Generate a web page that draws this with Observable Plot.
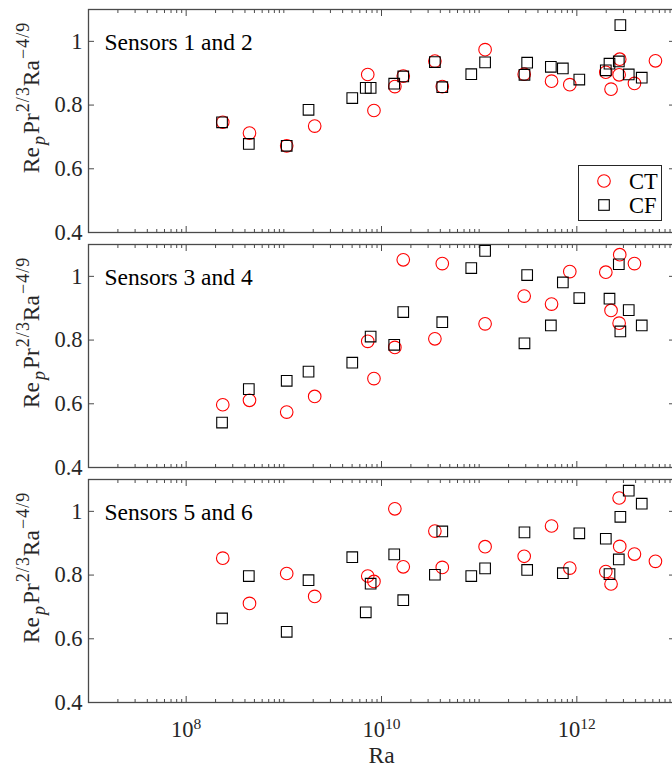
<!DOCTYPE html>
<html><head><meta charset="utf-8">
<script src="https://cdn.jsdelivr.net/npm/d3@7"></script>
<script src="https://cdn.jsdelivr.net/npm/@observablehq/plot@0.6"></script>
<style>
body{margin:0;background:#fff;}
#wrap{position:relative;width:672px;height:767px;overflow:hidden;background:#fff;}
#legend{position:absolute;left:578px;top:165px;}
#wrap svg text{font-family:"Liberation Serif","Times New Roman",Times,serif;}
</style></head><body><div id="wrap"></div>
<script>
// ---- data ----
const panels = ["Sensors 1 and 2", "Sensors 3 and 4", "Sensors 5 and 6"];
const seriesNames = ["CT", "CF"];
const raCT = [2.37e8, 4.45e8, 1.07e9, 2.07e9, 7.23e9, 8.37e9, 1.37e10, 1.67e10, 3.52e10, 4.19e10,
              1.15e11, 2.89e11, 5.51e11, 8.47e11, 1.98e12, 2.24e12, 2.71e12, 2.75e12, 3.89e12, 6.38e12];
const raCF = [2.33e8, 4.38e8, 1.07e9, 1.79e9, 5.02e9, 6.90e9, 7.74e9, 1.35e10, 1.67e10, 3.52e10,
              4.19e10, 8.30e10, 1.15e11, 2.91e11, 3.10e11, 5.42e11, 7.19e11, 1.06e12, 1.98e12, 2.16e12,
              2.69e12, 2.79e12, 3.40e12, 4.62e12];
const ct12 = [0.746, 0.712, 0.672, 0.734, 0.896, 0.783, 0.858, 0.891, 0.938, 0.858,
              0.974, 0.897, 0.875, 0.864, 0.903, 0.850, 0.895, 0.944, 0.868, 0.939];
const cf12 = [0.746, 0.678, 0.672, 0.785, 0.822, 0.854, 0.854, 0.867, 0.890, 0.935,
              0.856, 0.897, 0.934, 0.895, 0.933, 0.920, 0.915, 0.880, 0.909, 0.930,
              0.937, 1.051, 0.896, 0.886];
const ct34 = [0.597, 0.611, 0.574, 0.623, 0.796, 0.679, 0.777, 1.052, 0.804, 1.040,
              0.851, 0.938, 0.913, 1.015, 1.013, 0.893, 0.853, 1.068, 1.040, null];
const cf34 = [0.541, 0.646, 0.672, 0.701, 0.729, null, 0.811, 0.785, 0.888, null,
              0.856, 1.026, 1.080, 0.790, 1.004, 0.846, 0.981, 0.932, null, 0.930,
              1.038, 0.827, 0.894, 0.846];
const ct56 = [0.853, 0.711, 0.805, 0.733, 0.797, 0.780, 1.008, 0.826, 0.938, 0.824,
              0.889, 0.859, 0.954, 0.822, 0.811, 0.772, 1.042, 0.890, 0.866, 0.843];
const cf56 = [0.664, 0.797, 0.622, 0.784, 0.856, 0.683, 0.773, 0.865, 0.721, 0.801,
              0.937, 0.797, 0.821, 0.934, 0.816, null, 0.806, 0.931, 0.914, 0.803,
              0.849, 0.983, 1.065, 1.024];
const yTicks = [0.4, 0.6, 0.8, 1];
const xMajor = [1e8, 1e10, 1e12];
const yLabel = "Re_p Pr^{2/3} Ra^{-4/9}";
const xLabel = "Ra";

// ---- build tables ----
const ctSets = [ct12, ct34, ct56], cfSets = [cf12, cf34, cf56];
const rows = [];
panels.forEach((p, i) => {
  ctSets[i].forEach((v, j) => { if (v != null) rows.push({panel: p, ra: raCT[j], v, s: "CT"}); });
  cfSets[i].forEach((v, j) => { if (v != null) rows.push({panel: p, ra: raCF[j], v, s: "CF"}); });
});
const xMinor = [];
for (let n = 7; n <= 12; n++) for (let k = 1; k <= 9; k++) {
  const t = k * Math.pow(10, n);
  if (!xMajor.some(m => Math.abs(m - t) / m < 1e-9)) xMinor.push(t);
}
xMinor.push(1e13);

const axisColor = "#262626";
const frameColor = "#4a4a4a";
const font = '"Liberation Serif","Times New Roman",Times,serif';
const tickFs = 22.5, labelFs = 23.5;

const chart = Plot.plot({
  width: 672, height: 767,
  marginTop: 9, marginBottom: 64, marginLeft: 88, marginRight: -2,
  style: {fontFamily: font, background: "white", color: axisColor, overflow: "visible"},
  x: {type: "log", domain: [1e7, 1e13]},
  y: {domain: [0.4, 1.1]},
  fy: {domain: panels, axis: null, paddingInner: 0.05, paddingOuter: 0},
  marks: [
    Plot.frame({stroke: frameColor, strokeWidth: 1.3}),
    // inward ticks on all four sides
    Plot.axisX(xMajor, {anchor: "bottom", facetAnchor: null, tickSize: -6, tickFormat: () => "", stroke: frameColor, label: null}),
    Plot.axisX(xMajor, {anchor: "top", facetAnchor: null, tickSize: -6, tickFormat: () => "", stroke: frameColor, label: null}),
    Plot.axisX(xMinor, {anchor: "bottom", facetAnchor: null, tickSize: -3, tickFormat: () => "", stroke: frameColor, label: null}),
    Plot.axisX(xMinor, {anchor: "top", facetAnchor: null, tickSize: -3, tickFormat: () => "", stroke: frameColor, label: null}),
    Plot.axisY(yTicks, {anchor: "left", facetAnchor: null, tickSize: -6, tickFormat: () => "", stroke: frameColor, label: null}),
    Plot.axisY(yTicks, {anchor: "right", facetAnchor: null, tickSize: -6, tickFormat: () => "", stroke: frameColor, label: null}),
    // tick labels
    Plot.axisY(yTicks, {anchor: "left", facetAnchor: null, tickSize: 0, tickPadding: 6, tickFormat: d => d3.format("~g")(d), fill: axisColor, fontSize: tickFs, label: null}),
    Plot.axisX(xMajor, {anchor: "bottom", tickSize: 0, tickPadding: 19, tickFormat: d => "10^" + Math.round(Math.log10(d)), fill: axisColor, fontSize: tickFs, label: xLabel, labelAnchor: "center", labelOffset: 60, labelArrow: "none"}),
    // panel titles
    Plot.text(panels, {fy: d => d, text: d => d, y: () => 1, frameAnchor: "left", dx: 16, dy: 1.5, textAnchor: "start", fontSize: labelFs, fontFamily: font, fill: "black"}),
    // y label per panel
    Plot.text(panels, {fy: d => d, text: () => yLabel, frameAnchor: "top-left", dx: -66, dy: 88, rotate: -90, textAnchor: "middle", fontSize: labelFs, fontFamily: font, fill: axisColor}),
    // data
    Plot.dot(rows.filter(d => d.s === "CT"), {x: "ra", y: "v", fy: "panel", r: 6.3, symbol: "circle", stroke: "#ff0000", strokeWidth: 1.1, fill: "none"}),
    Plot.dot(rows.filter(d => d.s === "CF"), {x: "ra", y: "v", fy: "panel", r: 6, symbol: "square", stroke: "#000", strokeWidth: 1.1, fill: "none"})
  ]
});

const svg = d3.select(chart.tagName.toLowerCase() === "svg" ? chart : chart.querySelector("svg"));
// superscripts / subscripts in labels
svg.selectAll("text").each(function () {
  const t = d3.select(this);
  const s = this.textContent;
  let m = /^10\^(\d+)$/.exec(s);
  if (m) {
    t.text(null);
    t.append("tspan").text("10");
    t.append("tspan").attr("dy", "-8").attr("font-size", 15.5).text(m[1]);
    return;
  }
  if (s === yLabel) {
    t.text(null);
    const sup = 18;
    t.append("tspan").text("Re");
    t.append("tspan").attr("dx", 2).attr("dy", 6).attr("font-size", sup).attr("font-style", "italic").text("p");
    t.append("tspan").attr("dx", 2).attr("dy", -6).text("Pr");
    t.append("tspan").attr("dx", 1).attr("dy", -10).attr("font-size", sup).attr("letter-spacing", 1).text("2/3");
    t.append("tspan").attr("dy", 10).text("Ra");
    t.append("tspan").attr("dx", 1).attr("dy", -10).attr("font-size", sup).attr("letter-spacing", 1).text("\u22124/9");
    return;
  }
  if (s === xLabel) t.attr("font-size", labelFs);
});

const wrap = document.getElementById("wrap");
wrap.appendChild(chart);

// legend (overlay)
const lg = d3.select(wrap).append("svg").attr("id", "legend").attr("width", 85).attr("height", 57);
lg.append("rect").attr("x", 0.5).attr("y", 0.5).attr("width", 83).attr("height", 55)
  .attr("fill", "white").attr("stroke", axisColor).attr("stroke-width", 1);
seriesNames.forEach((name, i) => {
  const cy = 16 + i * 24;
  if (name === "CT") lg.append("circle").attr("cx", 26).attr("cy", cy).attr("r", 6.3).attr("fill", "none").attr("stroke", "#ff0000").attr("stroke-width", 1.1);
  else lg.append("rect").attr("x", 26 - 5.3).attr("y", cy - 5.3).attr("width", 10.6).attr("height", 10.6).attr("fill", "none").attr("stroke", "#000").attr("stroke-width", 1.1);
  lg.append("text").attr("x", 51).attr("y", cy + 7.5).attr("font-size", tickFs).attr("fill", "#000").text(name);
});
</script></body></html>
